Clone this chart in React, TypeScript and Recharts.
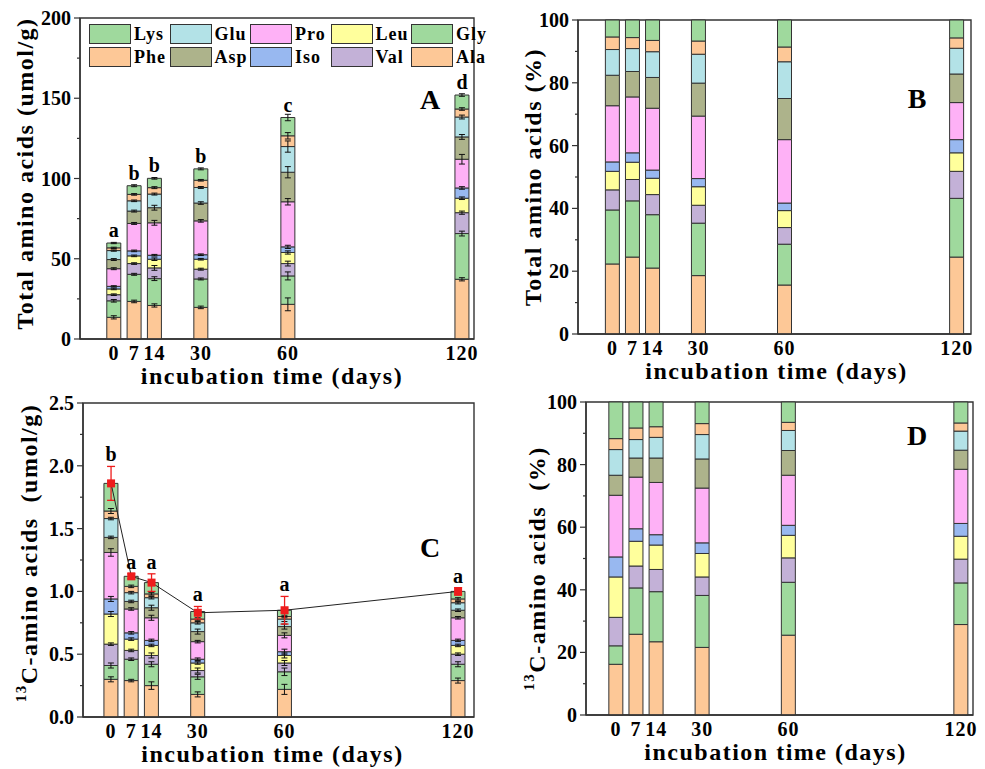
import React from 'react';
import { ComposedChart, Bar, Line, XAxis, YAxis, ErrorBar, LabelList, Legend, ReferenceArea } from 'recharts';

const FONT = '"Liberation Serif", "Times New Roman", Times, serif';
const AXIS = '#333';

// ---------- categories ----------
const days = [0, 7, 14, 30, 60, 120];
const acids = ['Ala', 'Gly', 'Val', 'Leu', 'Iso', 'Pro', 'Asp', 'Glu', 'Phe', 'Lys']; // stack order bottom -> top
const legendOrder = ['Lys', 'Glu', 'Pro', 'Leu', 'Gly', 'Phe', 'Asp', 'Iso', 'Val', 'Ala'];

// ---------- colours ----------
const colAla = '#fdc897';
const colGly = '#9fd99d';
const colVal = '#c3b1d7';
const colLeu = '#ffff9c';
const colIso = '#98b8f0';
const colPro = '#feb1f6';
const colAsp = '#adb38b';
const colGlu = '#b3e2e7';
const colPhe = '#fdc897';
const colLys = '#9fd99d';
const colorOf: Record<string, string> = {
  Ala: colAla, Gly: colGly, Val: colVal, Leu: colLeu, Iso: colIso,
  Pro: colPro, Asp: colAsp, Glu: colGlu, Phe: colPhe, Lys: colLys,
};

// ---------- Panel A: total amino acids (umol/g) ----------
const totAla = [13.5, 23.4, 20.9, 19.7, 21.6, 37.2];
const totGly = [10.3, 16.9, 16.7, 17.7, 17.7, 28.5];
const totVal = [3.8, 6.7, 6.7, 6.1, 7.7, 13.0];
const totLeu = [3.6, 4.8, 5.4, 6.2, 6.9, 9.0];
const totIso = [1.6, 3.1, 2.5, 2.8, 3.5, 6.4];
const totPro = [11.0, 17.1, 20.2, 21.1, 28.1, 17.9];
const totAsp = [5.7, 7.7, 9.4, 11.1, 18.4, 13.9];
const totGlu = [5.6, 6.4, 8.5, 9.7, 16.0, 12.4];
const totPhe = [1.7, 4.0, 4.0, 4.5, 6.7, 5.0];
const totLys = [3.0, 5.4, 5.8, 7.1, 11.4, 8.7];

const totErrAla = [1.0, 0.8, 1.0, 0.8, 4.0, 1.0];
const totErrGly = [0.8, 0.6, 1.2, 0.6, 2.5, 1.5];
const totErrVal = [0.5, 0.5, 1.5, 0.6, 1.5, 1.0];
const totErrLeu = [0.5, 0.5, 0.8, 0.5, 1.0, 0.8];
const totErrIso = [0.4, 0.5, 0.5, 0.5, 1.0, 0.8];
const totErrPro = [0.6, 0.6, 1.5, 0.8, 2.0, 3.0];
const totErrAsp = [0.6, 0.6, 1.5, 0.8, 3.5, 1.5];
const totErrGlu = [0.4, 0.5, 0.6, 0.6, 3.5, 1.2];
const totErrPhe = [0.4, 0.5, 0.6, 0.5, 2.0, 0.8];
const totErrLys = [0.4, 0.6, 0.5, 0.6, 2.0, 0.8];
const totLetters = ['a', 'b', 'b', 'b', 'c', 'd'];

// ---------- Panel B: total amino acids (%) ----------
const pctAla = [22.3, 24.5, 21.0, 18.6, 15.6, 24.5];
const pctGly = [17.2, 17.9, 17.0, 16.7, 13.0, 18.7];
const pctVal = [6.4, 6.8, 6.4, 5.7, 5.3, 8.6];
const pctLeu = [5.9, 5.5, 5.2, 5.9, 5.4, 5.9];
const pctIso = [3.0, 3.0, 2.6, 2.6, 2.4, 4.2];
const pctPro = [17.9, 17.8, 19.7, 19.9, 20.2, 11.8];
const pctAsp = [9.7, 8.1, 9.8, 10.5, 13.1, 9.1];
const pctGlu = [8.2, 7.3, 8.2, 9.2, 11.7, 8.2];
const pctPhe = [4.0, 3.5, 3.6, 4.2, 4.7, 3.3];
const pctLys = [5.4, 5.6, 6.5, 6.7, 8.6, 5.7];

// ---------- Panel C: 13C-amino acids (umol/g) ----------
const cAla = [0.30, 0.29, 0.25, 0.18, 0.22, 0.29];
const cGly = [0.11, 0.17, 0.17, 0.14, 0.14, 0.13];
const cVal = [0.17, 0.07, 0.07, 0.05, 0.07, 0.08];
const cLeu = [0.24, 0.09, 0.08, 0.06, 0.06, 0.07];
const cIso = [0.12, 0.05, 0.04, 0.03, 0.03, 0.04];
const cPro = [0.37, 0.19, 0.18, 0.14, 0.13, 0.18];
const cAsp = [0.12, 0.06, 0.08, 0.08, 0.07, 0.06];
const cGlu = [0.15, 0.07, 0.08, 0.07, 0.06, 0.06];
const cPhe = [0.06, 0.05, 0.03, 0.03, 0.02, 0.03];
const cLys = [0.22, 0.08, 0.09, 0.06, 0.05, 0.06];

const cErrAla = [0.02, 0.01, 0.03, 0.02, 0.04, 0.02];
const cErrGly = [0.02, 0.01, 0.02, 0.02, 0.03, 0.02];
const cErrVal = [0.01, 0.01, 0.02, 0.02, 0.02, 0.01];
const cErrLeu = [0.02, 0.01, 0.01, 0.01, 0.02, 0.01];
const cErrIso = [0.02, 0.01, 0.01, 0.01, 0.02, 0.01];
const cErrPro = [0.03, 0.01, 0.02, 0.01, 0.02, 0.01];
const cErrAsp = [0.01, 0.01, 0.02, 0.02, 0.02, 0.01];
const cErrGlu = [0.01, 0.01, 0.01, 0.01, 0.02, 0.01];
const cErrPhe = [0.02, 0.01, 0.01, 0.01, 0.01, 0.01];
const cErrLys = [0.01, 0.01, 0.01, 0.01, 0.01, 0.01];

const cMean = [1.86, 1.12, 1.07, 0.83, 0.85, 1.00];
const cMeanErr = [0.135, 0.02, 0.07, 0.05, 0.11, 0.03];
const cLetters = ['b', 'a', 'a', 'a', 'a', 'a'];

// ---------- Panel D: 13C-amino acids (%) ----------
const dAla = [16.2, 25.8, 23.4, 21.6, 25.5, 28.9];
const dGly = [5.9, 14.8, 16.0, 16.6, 16.9, 13.3];
const dVal = [9.1, 7.0, 7.1, 5.9, 7.8, 7.6];
const dLeu = [12.9, 7.9, 7.8, 7.5, 7.2, 7.3];
const dIso = [6.4, 4.0, 3.3, 3.4, 3.2, 4.1];
const dPro = [19.7, 16.5, 16.7, 17.5, 16.0, 17.3];
const dAsp = [6.4, 6.1, 7.8, 9.3, 7.9, 6.1];
const dGlu = [8.2, 5.9, 6.6, 7.8, 6.4, 6.1];
const dPhe = [3.5, 3.7, 3.4, 3.5, 2.6, 2.6];
const dLys = [11.7, 8.3, 7.9, 6.9, 6.5, 6.7];

// ---------- axis ticks ----------
const ticksA = [0, 25, 50, 75, 100, 125, 150, 175, 200];
const ticksPct = [0, 10, 20, 30, 40, 50, 60, 70, 80, 90, 100];
const ticksC = [0, 0.25, 0.5, 0.75, 1, 1.25, 1.5, 1.75, 2, 2.25, 2.5];

// ---------- tables built from the arrays ----------
function makeRows(vals: Record<string, number[]>, errs?: Record<string, number[]>) {
  return days.map((d, i) => {
    const row: any = { day: d };
    acids.forEach((a) => {
      row[a] = vals[a][i];
      if (errs) row['err' + a] = errs[a][i];
    });
    return row;
  });
}

const rowsA = makeRows(
  { Ala: totAla, Gly: totGly, Val: totVal, Leu: totLeu, Iso: totIso, Pro: totPro, Asp: totAsp, Glu: totGlu, Phe: totPhe, Lys: totLys },
  { Ala: totErrAla, Gly: totErrGly, Val: totErrVal, Leu: totErrLeu, Iso: totErrIso, Pro: totErrPro, Asp: totErrAsp, Glu: totErrGlu, Phe: totErrPhe, Lys: totErrLys },
).map((r, i) => ({ ...r, letter: totLetters[i] }));

const rowsB = makeRows({ Ala: pctAla, Gly: pctGly, Val: pctVal, Leu: pctLeu, Iso: pctIso, Pro: pctPro, Asp: pctAsp, Glu: pctGlu, Phe: pctPhe, Lys: pctLys });

const rowsC = makeRows(
  { Ala: cAla, Gly: cGly, Val: cVal, Leu: cLeu, Iso: cIso, Pro: cPro, Asp: cAsp, Glu: cGlu, Phe: cPhe, Lys: cLys },
  { Ala: cErrAla, Gly: cErrGly, Val: cErrVal, Leu: cErrLeu, Iso: cErrIso, Pro: cErrPro, Asp: cErrAsp, Glu: cErrGlu, Phe: cErrPhe, Lys: cErrLys },
).map((r, i) => ({ ...r, mean: cMean[i], meanErr: cMeanErr[i], letterY: cMean[i] + cMeanErr[i], letter: cLetters[i] }));

const rowsD = makeRows({ Ala: dAla, Gly: dGly, Val: dVal, Leu: dLeu, Iso: dIso, Pro: dPro, Asp: dAsp, Glu: dGlu, Phe: dPhe, Lys: dLys });

// ---------- small renderers ----------
function YTick(props: any) {
  const { x, y, payload, major, fmt } = props;
  const axisX = x + 9;
  const v = payload.value;
  const isMajor = Math.abs(v / major - Math.round(v / major)) < 1e-6;
  return (
    <g>
      <line x1={axisX - (isMajor ? 6 : 3)} x2={axisX} y1={y} y2={y} stroke={AXIS} strokeWidth={1.2} />
      {isMajor && (
        <text x={x} y={y} dy="0.35em" textAnchor="end" fontFamily={FONT} fontWeight="bold" fontSize={20} fill="#000">
          {fmt(v)}
        </text>
      )}
    </g>
  );
}

const titleStyle: any = { fontFamily: FONT, fontWeight: 'bold', fontSize: 24, fill: '#000', letterSpacing: 1.5, whiteSpace: 'pre' };

function yTitle(content: React.ReactNode, dist: number, dy: number) {
  return (props: any) => {
    const vb = props.viewBox || { x: 0, y: 0, width: 0, height: 0 };
    const cx = vb.x + vb.width - dist;
    const cy = vb.y + vb.height / 2 + dy;
    return (
      <text transform={`rotate(-90 ${cx} ${cy})`} x={cx} y={cy} textAnchor="middle" dominantBaseline="central" style={titleStyle}>
        {content}
      </text>
    );
  };
}

function xTitle(text: string, dx: number) {
  return (props: any) => {
    const vb = props.viewBox || { x: 0, y: 0, width: 0, height: 0 };
    return (
      <text x={vb.x + vb.width / 2 + dx} y={vb.y + 45} textAnchor="middle" style={titleStyle}>
        {text}
      </text>
    );
  };
}

function panelLetter(letter: string, dx: number, dy: number) {
  return (props: any) => {
    const vb = props.viewBox || { x: 0, y: 0, width: 0, height: 0 };
    return (
      <text x={vb.x + vb.width - dx} y={vb.y + dy} textAnchor="middle" fontFamily={FONT} fontWeight="bold" fontSize={28} fill="#000">
        {letter}
      </text>
    );
  };
}

const renderLegend = (props: any) => {
  const payload = props.payload || [];
  const byName: Record<string, string> = {};
  payload.forEach((p: any) => { byName[p.value] = colorOf[p.value] || p.color; });
  return (
    <div style={{ display: 'grid', gridTemplateColumns: 'repeat(5, 80.5px)', gridAutoRows: '23px' }}>
      {legendOrder.map((n) => (
        <div key={n} style={{ display: 'flex', alignItems: 'center', height: 23 }}>
          <span style={{ display: 'inline-block', width: 42, height: 20, boxSizing: 'border-box', border: '1.2px solid #333', background: byName[n] || colorOf[n] }} />
          <span style={{ marginLeft: 3, fontFamily: FONT, fontWeight: 'bold', fontSize: 18, letterSpacing: 1, color: '#000', lineHeight: '20px' }}>{n}</span>
        </div>
      ))}
    </div>
  );
};

const RedSquare = (props: any) => {
  const { cx, cy } = props;
  if (cx == null || cy == null) return null;
  return <rect x={cx - 4} y={cy - 4} width={8} height={8} fill="#ee1c1c" />;
};

type PanelProps = {
  left: number; top: number; width: number; height: number;
  margin: { top: number; right: number; left: number; bottom: number };
  yAxisWidth: number; xAxisHeight: number;
  xDomain: [number, number]; yDomain: [number, number];
  yTicks: number[]; yMajor: number; yFmt: (v: number) => string;
  yTitleNode: React.ReactNode; yTitleDist: number; yTitleDy: number; xTitleDx: number;
  letter: string; letterDx: number; letterDy: number;
  rows: any[]; withErr?: boolean; letters?: boolean; legend?: boolean; meanLine?: boolean;
};

function Panel(p: PanelProps) {
  return (
    <div style={{ position: 'absolute', left: p.left, top: p.top, width: p.width, height: p.height }}>
      <ComposedChart width={p.width} height={p.height} data={p.rows} margin={p.margin}>
        <XAxis
          dataKey="day" type="number" domain={p.xDomain} allowDataOverflow ticks={days} interval={0}
          height={p.xAxisHeight} tickLine={false} tickSize={4} tickMargin={3}
          axisLine={{ stroke: AXIS, strokeWidth: 1.4 }}
          tick={{ fontFamily: FONT, fontWeight: 'bold', fontSize: 20, fill: '#000', letterSpacing: 1 } as any}
          label={{ content: xTitle('incubation time (days)', p.xTitleDx) } as any}
        />
        <YAxis
          type="number" domain={p.yDomain} ticks={p.yTicks} interval={0} width={p.yAxisWidth}
          tickLine={false} tickSize={6} tickMargin={3} axisLine={{ stroke: AXIS, strokeWidth: 1.4 }}
          tick={(tp: any) => <YTick {...tp} major={p.yMajor} fmt={p.yFmt} />}
          label={{ content: yTitle(p.yTitleNode, p.yTitleDist, p.yTitleDy) } as any}
        />
        {p.legend && (
          <Legend layout="horizontal" verticalAlign="middle" align="center" content={renderLegend}
            wrapperStyle={{ left: 89, top: 22, width: 410, height: 46 }} />
        )}
        {acids.map((a) => (
          <Bar key={a} dataKey={a} name={a} stackId="s" fill={colorOf[a]} stroke="#333" strokeWidth={1} barSize={14} isAnimationActive={false}>
            {p.withErr && (
              <ErrorBar dataKey={'err' + a} width={3} stroke="#111" strokeWidth={1} direction="y" isAnimationActive={false} />
            )}
            {p.letters && a === 'Lys' && (
              <LabelList dataKey="letter" position="top" offset={6} fill="#000" fontSize={20} fontWeight="bold" fontFamily={FONT} />
            )}
          </Bar>
        ))}
        {p.meanLine && (
          <Line dataKey="mean" stroke="#222" strokeWidth={1} dot={<RedSquare />} activeDot={false} isAnimationActive={false} legendType="none">
            <ErrorBar dataKey="meanErr" width={4} stroke="#ee1c1c" strokeWidth={1.3} direction="y" isAnimationActive={false} />
          </Line>
        )}
        {p.meanLine && (
          <Line dataKey="letterY" stroke="none" dot={false} activeDot={false} isAnimationActive={false} legendType="none">
            <LabelList dataKey="letter" position="top" offset={5} fill="#000" fontSize={20} fontWeight="bold" fontFamily={FONT} />
          </Line>
        )}
        <ReferenceArea
          x1={p.xDomain[0]} x2={p.xDomain[1]} y1={p.yDomain[0]} y2={p.yDomain[1]}
          fill="none" fillOpacity={0} stroke={AXIS} strokeWidth={1.4} ifOverflow="visible"
          label={{ content: panelLetter(p.letter, p.letterDx, p.letterDy) } as any}
        />
      </ComposedChart>
    </div>
  );
}

const sup13 = (rest: string) => (
  <>
    <tspan fontSize={15} dy={-8}>13</tspan>
    <tspan dy={8}>{rest}</tspan>
  </>
);

export default function App() {
  return (
    <div style={{ position: 'absolute', left: 0, top: 0, width: 985, height: 769, background: '#fff', overflow: 'hidden' }}>
      <Panel
        left={0} top={0} width={492} height={392}
        margin={{ top: 18, right: 18, left: 0, bottom: 0 }}
        yAxisWidth={80} xAxisHeight={53}
        xDomain={[-11.7, 124.1]} yDomain={[0, 200]} yTicks={ticksA} yMajor={50} yFmt={(v) => String(v)}
        yTitleNode="Total amino acids (umol/g)" yTitleDist={55} yTitleDy={-5} xTitleDx={-5}
        letter="A" letterDx={44} letterDy={91}
        rows={rowsA} withErr letters legend
      />
      <Panel
        left={500} top={0} width={485} height={392}
        margin={{ top: 20, right: 14, left: 0, bottom: 0 }}
        yAxisWidth={78} xAxisHeight={58}
        xDomain={[-12, 125]} yDomain={[0, 100]} yTicks={ticksPct} yMajor={20} yFmt={(v) => String(v)}
        yTitleNode="Total amino acids (%)" yTitleDist={45} yTitleDy={0} xTitleDx={2}
        letter="B" letterDx={54} letterDy={88}
        rows={rowsB}
      />
      <Panel
        left={0} top={392} width={492} height={377}
        margin={{ top: 11, right: 18, left: 0, bottom: 0 }}
        yAxisWidth={83} xAxisHeight={52}
        xDomain={[-9.7, 125.5]} yDomain={[0, 2.5]} yTicks={ticksC} yMajor={0.5} yFmt={(v) => v.toFixed(1)}
        yTitleNode={sup13('C-amino acids  (umol/g)')} yTitleDist={54} yTitleDy={-7} xTitleDx={-6}
        letter="C" letterDx={44} letterDy={154}
        rows={rowsC} withErr meanLine
      />
      <Panel
        left={500} top={392} width={485} height={377}
        margin={{ top: 10, right: 12, left: 0, bottom: 0 }}
        yAxisWidth={86} xAxisHeight={54}
        xDomain={[-10.4, 124.2]} yDomain={[0, 100]} yTicks={ticksPct} yMajor={20} yFmt={(v) => String(v)}
        yTitleNode={sup13('C-amino acids  (%)')} yTitleDist={49} yTitleDy={10} xTitleDx={-4}
        letter="D" letterDx={56} letterDy={43}
        rows={rowsD}
      />
    </div>
  );
}
